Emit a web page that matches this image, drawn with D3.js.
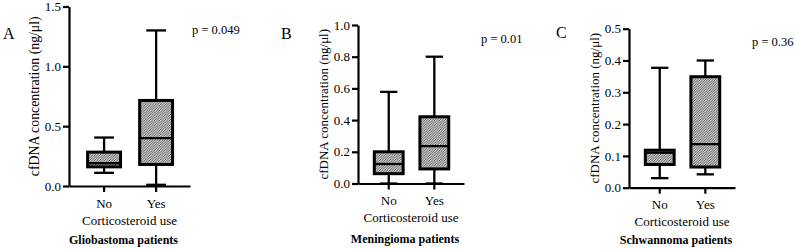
<!DOCTYPE html>
<html>
<head>
<meta charset="utf-8">
<script src="https://cdn.jsdelivr.net/npm/d3@7/dist/d3.min.js"></script>
<style>
  body { margin: 0; background: #fff; }
  svg text { font-family: "Liberation Serif", "Times New Roman", serif; fill: #000; }
  .axis path, .axis line { stroke: #000; stroke-width: 2.2; }
</style>
</head>
<body>
<svg id="chart" width="795" height="249"></svg>
<script>
// five-number summaries: [min, q1, median, q3, max]
const categories = ["No", "Yes"];
const gbmNo = [0.11, 0.16, 0.19, 0.283, 0.405];
const gbmYes = [0.01, 0.18, 0.40, 0.715, 1.30];
const menNo = [0.0, 0.062, 0.123, 0.20, 0.578];
const menYes = [0.0, 0.092, 0.236, 0.421, 0.80];
const schNo = [0.03, 0.073, 0.11, 0.118, 0.377];
const schYes = [0.042, 0.065, 0.137, 0.349, 0.40];

const yMax = [1.5, 1.0, 0.5];
const yStep = [0.5, 0.2, 0.1];
const letters = ["A", "B", "C"];
const pValues = ["p = 0.049", "p = 0.01", "p = 0.36"];
const titles = ["Gliobastoma patients", "Meningioma patients", "Schwannoma patients"];

const svg = d3.select("#chart");

let defs = svg.append("defs");
let pat = defs.append("pattern").attr("id", "hatch").attr("patternUnits", "userSpaceOnUse").attr("width", 2.5).attr("height", 2.5);
pat.append("rect").attr("width", 2.5).attr("height", 2.5).attr("fill", "#cccccc");
pat.append("path").attr("d", "M-1,1 l2,-2 M0,2.5 l2.5,-2.5 M1.5,3.5 l2,-2").attr("stroke", "#474747").attr("stroke-width", 0.8);

// layout of each panel
const panels = [
    {x: 69, w: 121, top: 6.5, bottom: 186, data: [gbmNo, gbmYes], letter: [3, 33], p: [192, 30], titleY: 240, labelSize: 13.8},
    {x: 358, w: 106, top: 25, bottom: 183.5, data: [menNo, menYes], letter: [281, 33], p: [481, 39], titleY: 239, labelSize: 13},
    {x: 629, w: 106, top: 28.7, bottom: 187.7, data: [schNo, schYes], letter: [556, 32], p: [752, 42], titleY: 239.5, labelSize: 13}
];

panels.forEach((pn, i) => {
    let g = svg.append("g");
    let y = d3.scaleLinear().domain([0, yMax[i]]).range([pn.bottom, pn.top]);
    let x = d3.scalePoint().domain(categories).range([pn.x + pn.w * 0.29, pn.x + pn.w * 0.72]);
    let boxW = pn.w * 0.272;
    let capW = boxW * 0.6;

    let ticks = d3.range(0, yMax[i] + yStep[i] / 2, yStep[i]);
    let yAxis = g.append("g").attr("class", "axis").attr("transform", "translate(" + pn.x + ",0)")
        .call(d3.axisLeft(y).tickValues(ticks).tickFormat(d3.format(".1f")).tickSize(6).tickSizeOuter(0).tickPadding(2));
    yAxis.attr("font-family", null);
    yAxis.selectAll("text").style("font-size", "13px");

    let xAxis = g.append("g").attr("class", "axis").attr("transform", "translate(0," + pn.bottom + ")")
        .call(d3.axisBottom(d3.scaleLinear().domain([0, 1]).range([pn.x, pn.x + pn.w])).tickValues([]).tickSizeOuter(0));
    g.selectAll(".xtick").data(categories).join("line")
        .attr("x1", d => x(d)).attr("x2", d => x(d))
        .attr("y1", pn.bottom).attr("y2", pn.bottom + 6)
        .attr("stroke", "#000").attr("stroke-width", 2.2);
    g.selectAll(".xlab").data(categories).join("text")
        .attr("x", d => x(d)).attr("y", pn.bottom + 17).attr("dy", "0.35em")
        .attr("text-anchor", "middle").style("font-size", "13px").text(d => d);

    // boxes
    let box = g.selectAll(".box").data(pn.data.map((d, j) => ({cat: categories[j], s: d}))).join("g");
    box.append("line").attr("x1", d => x(d.cat)).attr("x2", d => x(d.cat))
        .attr("y1", d => y(d.s[0])).attr("y2", d => y(d.s[1])).attr("stroke", "#000").attr("stroke-width", 2.3);
    box.append("line").attr("x1", d => x(d.cat)).attr("x2", d => x(d.cat))
        .attr("y1", d => y(d.s[3])).attr("y2", d => y(d.s[4])).attr("stroke", "#000").attr("stroke-width", 2.3);
    box.append("line").attr("x1", d => x(d.cat) - capW / 2).attr("x2", d => x(d.cat) + capW / 2)
        .attr("y1", d => y(d.s[0])).attr("y2", d => y(d.s[0])).attr("stroke", "#000").attr("stroke-width", 2.3);
    box.append("line").attr("x1", d => x(d.cat) - capW / 2).attr("x2", d => x(d.cat) + capW / 2)
        .attr("y1", d => y(d.s[4])).attr("y2", d => y(d.s[4])).attr("stroke", "#000").attr("stroke-width", 2.3);
    box.append("rect").attr("x", d => x(d.cat) - boxW / 2).attr("width", boxW)
        .attr("y", d => y(d.s[3])).attr("height", d => y(d.s[1]) - y(d.s[3]))
        .attr("fill", "url(#hatch)").attr("stroke", "#000").attr("stroke-width", 3);
    box.append("line").attr("x1", d => x(d.cat) - boxW / 2).attr("x2", d => x(d.cat) + boxW / 2)
        .attr("y1", d => y(d.s[2])).attr("y2", d => y(d.s[2])).attr("stroke", "#000").attr("stroke-width", 2.3);

    // texts
    let cx = pn.x + pn.w / 2;
    g.append("text").attr("transform", "translate(" + (pn.x - 35) + "," + ((pn.top + pn.bottom) / 2) + ") rotate(-90)")
        .attr("text-anchor", "middle").attr("dy", "0.35em").style("font-size", pn.labelSize + "px")
        .text("cfDNA concentration (ng/\u03bcl)");
    g.append("text").attr("x", cx).attr("y", pn.bottom + 34).attr("dy", "0.35em").attr("text-anchor", "middle")
        .style("font-size", "13px").text("Corticosteroid use");
    g.append("text").attr("x", cx - 6).attr("y", pn.titleY).attr("dy", "0.35em").attr("text-anchor", "middle")
        .style("font-size", "12px").style("font-weight", "bold").text(titles[i]);
    g.append("text").attr("x", pn.letter[0]).attr("y", pn.letter[1]).attr("dy", "0.35em")
        .style("font-size", "16px").text(letters[i]);
    g.append("text").attr("x", pn.p[0]).attr("y", pn.p[1]).attr("dy", "0.35em")
        .style("font-size", "12.5px").text(pValues[i]);
});
</script>
</body>
</html>
